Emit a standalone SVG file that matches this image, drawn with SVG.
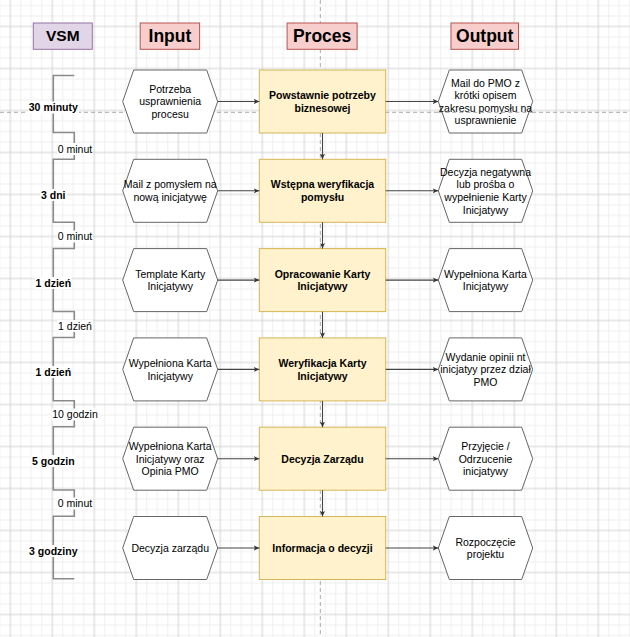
<svg xmlns="http://www.w3.org/2000/svg" width="630" height="637" viewBox="0 0 630 637">
<defs>
<pattern id="grid" x="-10.7" y="5.5" width="42" height="42" patternUnits="userSpaceOnUse">
<rect width="42" height="42" fill="#ffffff"/>
<path d="M0 0V42M10.5 0V42M31.5 0V42M42 0V42M0 0H42M0 10.5H42M0 31.5H42M0 42H42" stroke="#efefef" stroke-width="1" fill="none"/>
<path d="M21 0V42M0 21H42" stroke="#d4d4d4" stroke-width="1" fill="none"/>
</pattern>
<marker id="arr" markerUnits="userSpaceOnUse" markerWidth="6" markerHeight="6" viewBox="0 0 6 6" refX="5.5" refY="3" orient="auto">
<path d="M0,0.5 L5.5,3 L0,5.5 L1.3,3 Z" fill="#333333"/>
</marker>
</defs>
<style>
text{font-family:"Liberation Sans",Arial,Helvetica,sans-serif;fill:#000000;text-anchor:middle}
.hdr{font-weight:bold;font-size:17.5px}
.hdrbox{fill:#f8cecc;stroke:#b85450;stroke-width:1}
.vsmbox{fill:#e1d5e7;stroke:#9673a6;stroke-width:1}
.hex{fill:#ffffff;stroke:#666666;stroke-width:1}
.proc{fill:#fff2cc;stroke:#d6b656;stroke-width:1}
.t{font-size:10.5px}
.b{font-size:10.5px;font-weight:bold}
.guide{stroke:#a8a8a8;stroke-width:1;stroke-dasharray:4 3;fill:none}
.edge{stroke:#444444;stroke-width:1.1;fill:none;marker-end:url(#arr)}
.bracket{stroke:#8a8a8a;stroke-width:1.6;fill:none}
.lbg{fill:#ffffff}
</style>
<g id="background">
<rect x="0" y="0" width="630" height="637" fill="url(#grid)"/>
<path class="guide" d="M320.3 0V637"/>
<path class="guide" d="M0 112.3H630"/>
</g>
<g id="headers">
<g id="hdr-vsm"><rect class="vsmbox" x="33.3" y="23" width="59" height="26.3"/><text x="62.8" y="41.2" style="font-weight:bold;font-size:15.5px">VSM</text></g>
<g id="hdr-input"><rect class="hdrbox" x="140.2" y="23" width="59.4" height="26.3"/><text class="hdr" x="169.9" y="42.2">Input</text></g>
<g id="hdr-proces"><rect class="hdrbox" x="287.1" y="23" width="70" height="26.3"/><text class="hdr" x="322.1" y="42.2">Proces</text></g>
<g id="hdr-output"><rect class="hdrbox" x="451" y="23" width="67.5" height="26.3"/><text class="hdr" x="484.7" y="42.2">Output</text></g>
</g>
<g id="vsm-timeline">
<path class="bracket" d="M74.3 75.5H53.3V132.5H74.3V159.3H53.3V222.3H74.3V248.5H53.3V311.5H74.3V337.5H53.3V400.8H74.3V426.8H53.3V490H74.3V516.3H53.3V578.8H74.3"/>
<rect class="lbg" x="28" y="101.5" width="51" height="12"/><text class="b" x="53.3" y="111.3">30 minuty</text>
<rect class="lbg" x="40" y="189" width="27" height="12"/><text class="b" x="53.3" y="198.8">3 dni</text>
<rect class="lbg" x="35" y="277" width="37" height="12"/><text class="b" x="53.3" y="286.8">1 dzień</text>
<rect class="lbg" x="35" y="366" width="37" height="12"/><text class="b" x="53.3" y="375.8">1 dzień</text>
<rect class="lbg" x="31.5" y="455" width="44" height="12"/><text class="b" x="53.3" y="464.8">5 godzin</text>
<rect class="lbg" x="28.5" y="545" width="50" height="12"/><text class="b" x="53.3" y="554.8">3 godziny</text>
<rect class="lbg" x="57" y="143" width="36" height="12"/><text class="t" x="75" y="152.8">0 minut</text>
<rect class="lbg" x="57" y="230.5" width="36" height="12"/><text class="t" x="75" y="240.3">0 minut</text>
<rect class="lbg" x="57.5" y="320" width="35" height="12"/><text class="t" x="75" y="329.8">1 dzień</text>
<rect class="lbg" x="51.5" y="408.5" width="47" height="12"/><text class="t" x="75" y="418.3">10 godzin</text>
<rect class="lbg" x="57" y="497.5" width="36" height="12"/><text class="t" x="75" y="507.3">0 minut</text>
</g>
<g id="row1">
<g id="in1"><polygon class="hex" points="122.7,101.5 133.7,70 206.7,70 217.7,101.5 206.7,133 133.7,133"/><text class="t"><tspan x="170.2" y="92.8">Potrzeba</tspan><tspan x="170.2" y="105.4">usprawnienia</tspan><tspan x="170.2" y="118">procesu</tspan></text></g>
<g id="p1"><rect class="proc" x="259.3" y="70" width="126.4" height="63"/><text class="b"><tspan x="322.5" y="99.1">Powstawnie potrzeby</tspan><tspan x="322.5" y="111.7">biznesowej</tspan></text></g>
<g id="out1"><polygon class="hex" points="438.3,101.5 449.3,70 521.7,70 532.7,101.5 521.7,133 449.3,133"/><text class="t"><tspan x="485.5" y="86.5">Mail do PMO z</tspan><tspan x="485.5" y="99.1">krótki opisem</tspan><tspan x="485.5" y="111.7">zakresu pomysłu na</tspan><tspan x="485.5" y="124.3">usprawnienie</tspan></text></g>
</g>
<g id="row2">
<g id="in2"><polygon class="hex" points="122.7,190.8 133.7,159.3 206.7,159.3 217.7,190.8 206.7,222.3 133.7,222.3"/><text class="t"><tspan x="170.2" y="188.4">Mail z pomysłem na</tspan><tspan x="170.2" y="201">nową inicjatywę</tspan></text></g>
<g id="p2"><rect class="proc" x="259.3" y="159.3" width="126.4" height="63"/><text class="b"><tspan x="322.5" y="188.4">Wstępna weryfikacja</tspan><tspan x="322.5" y="201">pomysłu</tspan></text></g>
<g id="out2"><polygon class="hex" points="438.3,190.8 449.3,159.3 521.7,159.3 532.7,190.8 521.7,222.3 449.3,222.3"/><text class="t"><tspan x="485.5" y="175.8">Decyzja negatywna</tspan><tspan x="485.5" y="188.4">lub prośba o</tspan><tspan x="485.5" y="201">wypełnienie Karty</tspan><tspan x="485.5" y="213.6">Inicjatywy</tspan></text></g>
</g>
<g id="row3">
<g id="in3"><polygon class="hex" points="122.7,280.1 133.7,248.6 206.7,248.6 217.7,280.1 206.7,311.6 133.7,311.6"/><text class="t"><tspan x="170.2" y="277.7">Template Karty</tspan><tspan x="170.2" y="290.3">Inicjatywy</tspan></text></g>
<g id="p3"><rect class="proc" x="259.3" y="248.6" width="126.4" height="63"/><text class="b"><tspan x="322.5" y="277.7">Opracowanie Karty</tspan><tspan x="322.5" y="290.3">Inicjatywy</tspan></text></g>
<g id="out3"><polygon class="hex" points="438.3,280.1 449.3,248.6 521.7,248.6 532.7,280.1 521.7,311.6 449.3,311.6"/><text class="t"><tspan x="485.5" y="277.7">Wypełniona Karta</tspan><tspan x="485.5" y="290.3">Inicjatywy</tspan></text></g>
</g>
<g id="row4">
<g id="in4"><polygon class="hex" points="122.7,369.4 133.7,337.9 206.7,337.9 217.7,369.4 206.7,400.9 133.7,400.9"/><text class="t"><tspan x="170.2" y="367">Wypełniona Karta</tspan><tspan x="170.2" y="379.6">Inicjatywy</tspan></text></g>
<g id="p4"><rect class="proc" x="259.3" y="337.9" width="126.4" height="63"/><text class="b"><tspan x="322.5" y="367">Weryfikacja Karty</tspan><tspan x="322.5" y="379.6">Inicjatywy</tspan></text></g>
<g id="out4"><polygon class="hex" points="438.3,369.4 449.3,337.9 521.7,337.9 532.7,369.4 521.7,400.9 449.3,400.9"/><text class="t"><tspan x="485.5" y="360.7">Wydanie opinii nt</tspan><tspan x="485.5" y="373.3">inicjatyy przez dział</tspan><tspan x="485.5" y="385.9">PMO</tspan></text></g>
</g>
<g id="row5">
<g id="in5"><polygon class="hex" points="122.7,458.7 133.7,427.2 206.7,427.2 217.7,458.7 206.7,490.2 133.7,490.2"/><text class="t"><tspan x="170.2" y="450">Wypełniona Karta</tspan><tspan x="170.2" y="462.6">Inicjatywy oraz</tspan><tspan x="170.2" y="475.2">Opinia PMO</tspan></text></g>
<g id="p5"><rect class="proc" x="259.3" y="427.2" width="126.4" height="63"/><text class="b" x="322.5" y="462.6">Decyzja Zarządu</text></g>
<g id="out5"><polygon class="hex" points="438.3,458.7 449.3,427.2 521.7,427.2 532.7,458.7 521.7,490.2 449.3,490.2"/><text class="t"><tspan x="485.5" y="450">Przyjęcie /</tspan><tspan x="485.5" y="462.6">Odrzucenie</tspan><tspan x="485.5" y="475.2">inicjatywy</tspan></text></g>
</g>
<g id="row6">
<g id="in6"><polygon class="hex" points="122.7,548 133.7,516.5 206.7,516.5 217.7,548 206.7,579.5 133.7,579.5"/><text class="t" x="170.2" y="551.9">Decyzja zarządu</text></g>
<g id="p6"><rect class="proc" x="259.3" y="516.5" width="126.4" height="63"/><text class="b" x="322.5" y="551.9">Informacja o decyzji</text></g>
<g id="out6"><polygon class="hex" points="438.3,548 449.3,516.5 521.7,516.5 532.7,548 521.7,579.5 449.3,579.5"/><text class="t"><tspan x="485.5" y="545.6">Rozpoczęcie</tspan><tspan x="485.5" y="558.2">projektu</tspan></text></g>
</g>
<g id="guide-overlay">
<path class="guide" d="M438.3 112.3H532.7"/>
</g>
<g id="connectors">
<path class="edge" d="M217.7 101.5H259.3"/>
<path class="edge" d="M385.7 101.5H438.3"/>
<path class="edge" d="M217.7 190.8H259.3"/>
<path class="edge" d="M385.7 190.8H438.3"/>
<path class="edge" d="M217.7 280.1H259.3"/>
<path class="edge" d="M385.7 280.1H438.3"/>
<path class="edge" d="M217.7 369.4H259.3"/>
<path class="edge" d="M385.7 369.4H438.3"/>
<path class="edge" d="M217.7 458.7H259.3"/>
<path class="edge" d="M385.7 458.7H438.3"/>
<path class="edge" d="M217.7 548H259.3"/>
<path class="edge" d="M385.7 548H438.3"/>
<path class="edge" d="M322.5 133V159.3"/>
<path class="edge" d="M322.5 222.3V248.6"/>
<path class="edge" d="M322.5 311.6V337.9"/>
<path class="edge" d="M322.5 400.9V427.2"/>
<path class="edge" d="M322.5 490.2V516.5"/>
</g>
</svg>
